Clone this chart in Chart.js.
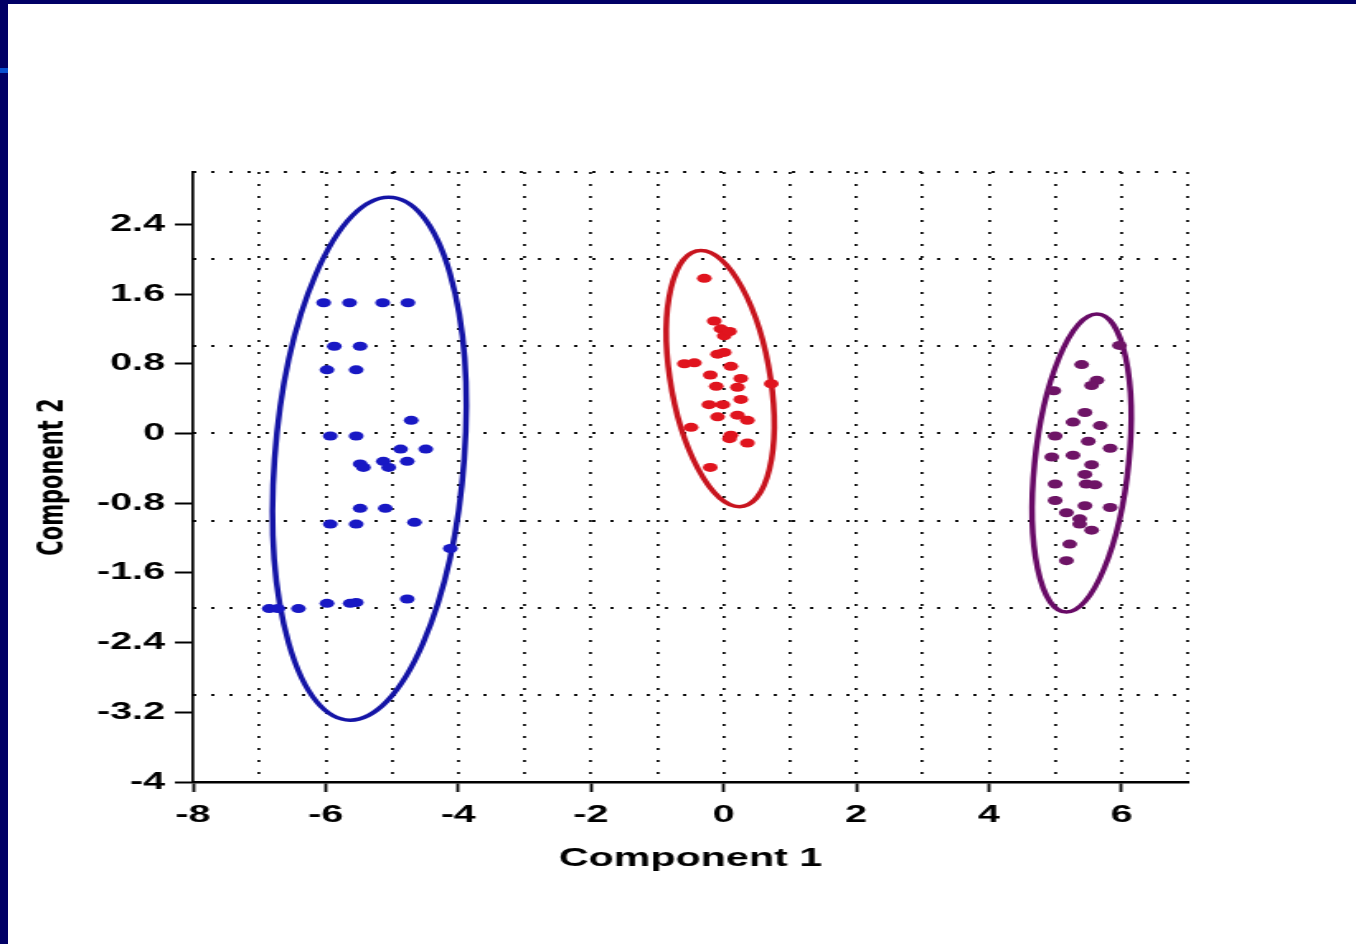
<!DOCTYPE html>
<html>
<head>
<meta charset="utf-8">
<script src="https://cdn.jsdelivr.net/npm/chart.js@4.4.1/dist/chart.umd.min.js"></script>
<style>
html,body{margin:0;padding:0;background:#fff;width:1356px;height:944px;overflow:hidden;}
#wrap{position:relative;width:1356px;height:944px;}
#c{position:absolute;left:0;top:0;}
.navyL{position:absolute;left:0;top:0;width:8px;height:944px;background:#010066;}
.navyT{position:absolute;left:0;top:0;width:1356px;height:4px;background:#010066;}
.mark{position:absolute;left:0;top:68px;width:8px;height:5px;background:#0a50d0;}
</style>
</head>
<body>
<div id="wrap">
<canvas id="c" width="822" height="944" style="width:1356px;height:944px"></canvas>
<div class="navyL"></div><div class="navyT"></div><div class="mark"></div>
</div>
<script>
// ---- data ----
const blueX = [-6.03,-5.64,-5.14,-4.76,-5.87,-5.48,-5.98,-5.54,-4.71,-5.93,-5.54,-4.87,-4.49,-5.48,-5.43,-5.13,-5.05,-4.77,-5.48,-5.10,-5.93,-5.54,-4.66,-4.12,-4.77,-5.98,-5.54,-5.63,-6.85,-6.72,-6.41];
const blueY = [1.50,1.50,1.50,1.50,1.00,1.00,0.73,0.73,0.15,-0.03,-0.03,-0.18,-0.18,-0.35,-0.39,-0.32,-0.39,-0.32,-0.86,-0.86,-1.04,-1.04,-1.02,-1.32,-1.90,-1.95,-1.94,-1.95,-2.01,-2.01,-2.01];

const redX = [-0.29,-0.14,-0.04,0.01,0.09,-0.09,0.01,-0.59,-0.44,0.11,-0.20,0.26,-0.11,0.21,0.26,-0.22,-0.01,-0.09,0.21,0.36,0.11,0.09,0.36,-0.49,-0.20,0.72];
const redY = [1.78,1.29,1.20,1.12,1.17,0.91,0.93,0.80,0.81,0.77,0.67,0.63,0.54,0.53,0.39,0.33,0.33,0.19,0.21,0.15,-0.02,-0.06,-0.11,0.07,-0.39,0.57];

const purpleX = [5.40,5.63,5.55,5.45,5.27,5.68,5.00,5.50,5.83,4.95,5.27,5.55,5.45,5.00,5.47,5.60,5.00,5.45,5.83,5.17,5.37,5.37,5.55,5.22,5.17,4.98,5.97];
const purpleY = [0.79,0.61,0.55,0.24,0.13,0.09,-0.03,-0.09,-0.17,-0.27,-0.25,-0.36,-0.47,-0.58,-0.58,-0.59,-0.77,-0.83,-0.85,-0.91,-0.98,-1.04,-1.11,-1.27,-1.46,0.49,1.01];

// confidence ellipses: centre, vector to topmost point, horizontal half-width (data units)
const ellipseCenterX = [-5.34, -0.05, 5.40];
const ellipseCenterY = [-0.29, 0.63, -0.34];
const ellipseTopDX = [0.29, -0.29, 0.23];
const ellipseTopDY = [3.00, 1.47, 1.71];
const ellipseHalfWidth = [1.43, 0.76, 0.71];

const xTickValues = [-8,-6,-4,-2,0,2,4,6];
const xTickLabels = ['-8','-6','-4','-2','0','2','4','6'];
const yTickValues = [-4,-3.2,-2.4,-1.6,-0.8,0,0.8,1.6,2.4];
const yTickLabels = ['-4','-3.2','-2.4','-1.6','-0.8','0','0.8','1.6','2.4'];
const xGridValues = [-7,-6,-5,-4,-3,-2,-1,0,1,2,3,4,5,6,7];
const yGridValues = [-3,-2,-1,0,1,2,3];

const xTitle = 'Component 1';
const yTitle = 'Component 2';

// ---- styles ----
const pointColors = ['#1818c4', '#e0141e', '#6e1466'];
const ellipseColors = ['#1414a6', '#c8141e', '#680a66'];

const zip = (xs, ys) => xs.map((x, i) => ({x: x, y: ys[i]}));

const ellipsePlugin = {
  id: 'ellipses',
  beforeDatasetsDraw(chart) {
    const ctx = chart.ctx, xs = chart.scales.x, ys = chart.scales.y;
    for (let i = 0; i < ellipseCenterX.length; i++) {
      const cx = xs.getPixelForValue(ellipseCenterX[i]);
      const cy = ys.getPixelForValue(ellipseCenterY[i]);
      const ux = xs.getPixelForValue(ellipseCenterX[i] + ellipseTopDX[i]) - cx;
      const uy = ys.getPixelForValue(ellipseCenterY[i] + ellipseTopDY[i]) - cy;
      const vx = xs.getPixelForValue(ellipseCenterX[i] + ellipseHalfWidth[i]) - cx;
      ctx.save();
      ctx.beginPath();
      ctx.save();
      ctx.translate(cx, cy);
      ctx.transform(vx, 0, ux, uy, 0, 0);
      ctx.arc(0, 0, 1, 0, Math.PI * 2);
      ctx.restore();
      ctx.lineWidth = 3.5;
      ctx.strokeStyle = ellipseColors[i];
      ctx.stroke();
      ctx.restore();
    }
  }
};

Chart.defaults.font.family = '"Liberation Sans", Arial, sans-serif';
Chart.defaults.color = '#000';

new Chart(document.getElementById('c'), {
  type: 'scatter',
  data: {
    datasets: [
      {label: 'Group 1', data: zip(blueX, blueY), backgroundColor: pointColors[0], borderWidth: 0, pointRadius: 4.5},
      {label: 'Group 2', data: zip(redX, redY), backgroundColor: pointColors[1], borderWidth: 0, pointRadius: 4.5},
      {label: 'Group 3', data: zip(purpleX, purpleY), backgroundColor: pointColors[2], borderWidth: 0, pointRadius: 4.5}
    ]
  },
  options: {
    responsive: false,
    animation: false,
    devicePixelRatio: 1,
    layout: {padding: {left: 0, right: 102, top: 172, bottom: 0}},
    plugins: {legend: {display: false}, tooltip: {enabled: false}},
    scales: {
      x: {
        type: 'linear', position: 'bottom', min: -8, max: 7,
        afterBuildTicks: s => { s.ticks = xTickValues.map(v => ({value: v})); },
        afterFit: s => { s.height = 162; },
        ticks: {autoSkip: false, maxRotation: 0, padding: 9, color: '#000',
                font: {size: 24, weight: 'bold'}, callback: (v, i) => xTickLabels[i]},
        grid: {drawOnChartArea: false, drawTicks: true, tickLength: 10, tickWidth: 1.8, tickColor: '#000'},
        border: {display: true, color: '#000', width: 2.5},
        title: {display: true, text: xTitle, color: '#000',
                font: {size: 25, weight: 'bold'}, padding: {top: 0, bottom: 70}}
      },
      xGrid: {
        type: 'linear', position: 'bottom', min: -8, max: 7,
        afterBuildTicks: s => { s.ticks = xGridValues.map(v => ({value: v})); },
        afterFit: s => { s.height = 0; },
        ticks: {display: false},
        grid: {drawOnChartArea: true, drawTicks: false, color: '#111', lineWidth: 1.8},
        border: {display: false, dash: [2, 10]}
      },
      y: {
        type: 'linear', position: 'left', min: -4, max: 3,
        afterBuildTicks: s => { s.ticks = yTickValues.map(v => ({value: v})); },
        afterFit: s => { s.width = 117; },
        ticks: {autoSkip: false, padding: 6, color: '#000',
                font: {size: 24, weight: 'bold'}, callback: (v, i) => yTickLabels[i]},
        grid: {drawOnChartArea: false, drawTicks: true, tickLength: 11, tickWidth: 2, tickColor: '#000'},
        border: {display: true, color: '#000', width: 1.7},
        title: {display: true, text: yTitle, color: '#000',
                font: {family: '"DejaVu Sans", sans-serif', size: 21, weight: 'bold'}, padding: {top: 20, bottom: 0}}
      },
      yGrid: {
        type: 'linear', position: 'left', min: -4, max: 3,
        afterBuildTicks: s => { s.ticks = yGridValues.map(v => ({value: v})); },
        afterFit: s => { s.width = 0; },
        ticks: {display: false},
        grid: {drawOnChartArea: true, drawTicks: false, color: '#111', lineWidth: 2},
        border: {display: false, dash: [2, 9]}
      }
    }
  },
  plugins: [ellipsePlugin]
});
</script>
</body>
</html>
